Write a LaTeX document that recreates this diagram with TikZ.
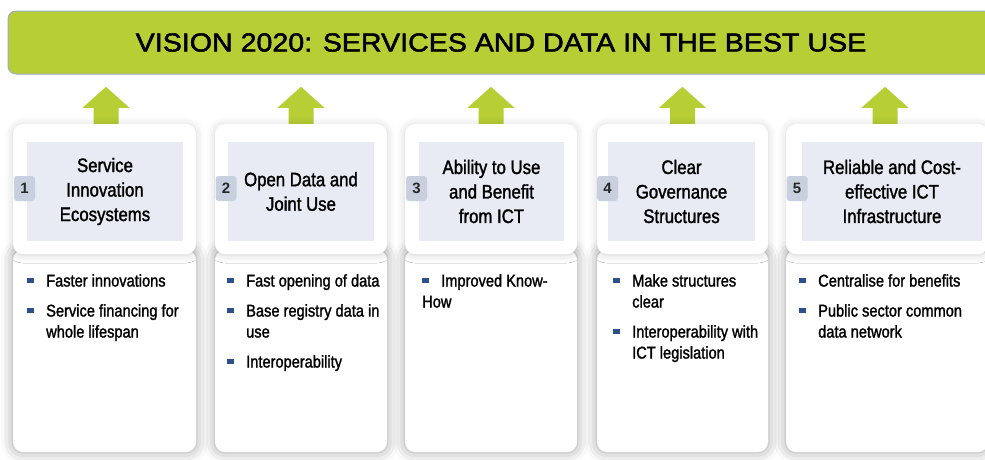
\documentclass[tikz,border=0pt]{standalone}
\usepackage{fontspec}
\setmainfont{Liberation Sans}
\newfontfamily\narrowfont[FakeStretch=0.86,FakeBold=1.5]{Liberation Sans}
\newfontfamily\titlefont[FakeStretch=1.1,FakeBold=2]{Liberation Sans}
\usetikzlibrary{shadows.blur,backgrounds}
\definecolor{visiongreen}{HTML}{B7CF35}
\definecolor{edgeblue}{HTML}{8497B0}
\definecolor{headfill}{HTML}{E8EBF4}
\definecolor{numfill}{HTML}{C8D0E0}
\definecolor{bulletblue}{HTML}{2E4F8E}
\newcommand\bul{\llap{\textcolor{bulletblue}{\rule[4pt]{7pt}{4.5pt}}\hspace{12pt}}}
\tikzset{
  panel/.style={blur shadow={shadow xshift=0pt,shadow yshift=0pt,shadow blur radius=12pt,shadow opacity=38},fill=white,rounded corners=10pt,minimum height=202pt,inner sep=0pt},
  card/.style={blur shadow={shadow xshift=0pt,shadow yshift=-1pt,shadow blur radius=8pt,shadow opacity=18},fill=white,rounded corners=10pt,minimum height=130pt,inner sep=0pt},
  head/.style={fill=headfill,minimum height=99pt,align=center,inner sep=0pt,font=\narrowfont\fontsize{19.5}{24.5}\selectfont},
  num/.style={fill=numfill,rounded corners=3pt,minimum width=21pt,minimum height=25pt,inner sep=0pt,font=\bfseries\fontsize{15}{15}\selectfont,text=black!85},
  items/.style={anchor=north west,align=left,inner sep=0pt,font=\narrowfont\fontsize{17}{21}\selectfont}
}
\begin{document}
\begin{tikzpicture}[x=1pt,y=-1pt]
\useasboundingbox (0,0) rectangle (985,459);
\clip (0,0) rectangle (985,459);
\node[fill=visiongreen,draw=edgeblue!80,line width=1pt,rounded corners=8pt,minimum width=986pt,minimum height=63pt,font=\titlefont\fontsize{26}{26}\selectfont] (vision) at (501,42.5) {VISION 2020: SERVICES AND DATA IN THE BEST USE};
\node[panel,minimum width=183pt] (p1) at (104.5,351) {};
\node[panel,minimum width=172pt] (p2) at (301,351) {};
\node[panel,minimum width=172pt] (p3) at (491,351) {};
\node[panel,minimum width=171pt] (p4) at (682.5,351) {};
\node[panel,minimum width=202pt] (p5) at (887,351) {};
\node[card,minimum width=183pt] (c1) at (104.5,189) {};
\node[card,minimum width=172pt] (c2) at (301,189) {};
\node[card,minimum width=172pt] (c3) at (491,189) {};
\node[card,minimum width=171pt] (c4) at (682.5,189) {};
\node[card,minimum width=202pt] (c5) at (887,189) {};
\begin{scope}[on background layer]
\fill[visiongreen] (c1.north) ++(-11,2) -- ++(0,-18) -- ++(-11,0) -- ++(23.5,-21) -- ++(23.5,21) -- ++(-11,0) -- ++(0,18) -- cycle;
\fill[visiongreen] (c2.north) ++(-12.5,2) -- ++(0,-18) -- ++(-11,0) -- ++(23.5,-21) -- ++(23.5,21) -- ++(-11,0) -- ++(0,18) -- cycle;
\fill[visiongreen] (c3.north) ++(-12.5,2) -- ++(0,-18) -- ++(-11,0) -- ++(23.5,-21) -- ++(23.5,21) -- ++(-11,0) -- ++(0,18) -- cycle;
\fill[visiongreen] (c4.north) ++(-12.5,2) -- ++(0,-18) -- ++(-11,0) -- ++(23.5,-21) -- ++(23.5,21) -- ++(-11,0) -- ++(0,18) -- cycle;
\fill[visiongreen] (c5.north) ++(-14.5,2) -- ++(0,-18) -- ++(-11,0) -- ++(23.5,-21) -- ++(23.5,21) -- ++(-11,0) -- ++(0,18) -- cycle;
\end{scope}
\node[head,minimum width=156pt] (h1) at (105,191.5) {Service\\Innovation\\Ecosystems};
\node[head,minimum width=146pt] (h2) at (301,191.5) {Open Data and\\Joint Use};
\node[head,minimum width=145pt] (h3) at (491.5,191.5) {Ability to Use\\and Benefit\\from ICT};
\node[head,minimum width=147pt] (h4) at (681.5,191.5) {Clear\\Governance\\Structures};
\node[head,minimum width=180pt] (h5) at (892,191.5) {Reliable and Cost-\\effective ICT\\Infrastructure};
\node[num] (n1) at (24.5,188.5) {1};
\node[num] (n2) at (226,188.5) {2};
\node[num] (n3) at (416.5,188.5) {3};
\node[num] (n4) at (607.5,188.5) {4};
\node[num] (n5) at (797,188.5) {5};
\node[items] (l1) at (46,274) {\bul Faster innovations\\[9pt]\bul Service financing for\\whole lifespan};
\node[items] (l2) at (246,274) {\bul Fast opening of data\\[9pt]\bul Base registry data in\\use\\[9pt]\bul Interoperability};
\node[items] (l3) at (422,274) {\textcolor{bulletblue}{\rule[4pt]{7pt}{4.5pt}}\hspace{12pt}Improved Know-\\How};
\node[items] (l4) at (632,274) {\bul Make structures\\clear\\[9pt]\bul Interoperability with\\ICT legislation};
\node[items] (l5) at (818,274) {\bul Centralise for benefits\\[9pt]\bul Public sector common\\data network};
\end{tikzpicture}
\end{document}
